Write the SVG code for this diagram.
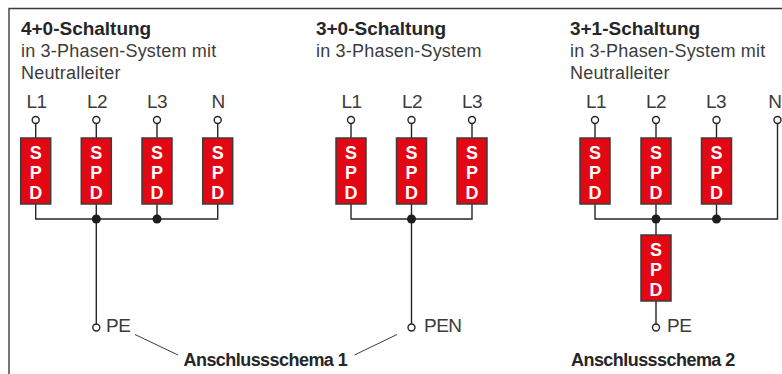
<svg xmlns="http://www.w3.org/2000/svg" width="782" height="374" viewBox="0 0 782 374">
<style>
text{font-family:"Liberation Sans",Arial,sans-serif;fill:#3c3c3b}
.h{font-size:19px;font-weight:700;fill:#262626;letter-spacing:-.02px}
.t{font-size:18px;font-weight:400;letter-spacing:.2px}
.p{font-size:19px;text-anchor:middle;letter-spacing:-.5px}
.pl{font-size:19px;letter-spacing:-.5px}
.b{fill:#e30613;stroke:#3c3c3b;stroke-width:1.5}
.s{font-size:18px;font-weight:700;fill:#fff;text-anchor:middle}
.w{fill:none;stroke:#262626;stroke-width:1.4}
.c{fill:#fff;stroke:#262626;stroke-width:1.4}
.d{fill:#1d1d1b}
.m{font-size:18px;font-weight:700;fill:#262626;letter-spacing:-.55px}
</style>
<defs>
<g id="spd"><rect class="b" x="-15" y="0" width="30" height="66"/><text class="s" y="21">S</text><text class="s" y="41">P</text><text class="s" y="61">D</text></g>
</defs>
<g id="frame"><path d="M782 8.500H9V374" fill="none" stroke="#3c3c3b" stroke-width="1.4"/></g>
<g id="connectors">
<path class="w" d="M35.700 123.500V138M96.300 123.500V138M157 123.500V138M217.700 123.500V138M35.700 204V219H217.700V204M96.300 204V324M157 204V219"/>
<path class="w" d="M351 123.500V138M411.500 123.500V138M472 123.500V138M351 204V219H472V204M411.500 204V324"/>
<path class="w" d="M595 123.500V138M656 123.500V138M716.500 123.500V138M777.500 123.500V219H595V204M656 204V235M716.500 204V219M656 301V324"/>
<path d="M135 334.500L178 355M397 334.500L354.500 355" fill="none" stroke="#3c3c3b" stroke-width="1"/>
<circle class="d" cx="96.300" cy="219" r="4.500"/><circle class="d" cx="157" cy="219" r="4.500"/>
<circle class="d" cx="411.500" cy="219" r="4.500"/>
<circle class="d" cx="656" cy="219" r="4.500"/><circle class="d" cx="716.500" cy="219" r="4.500"/>
</g>
<g id="title-40"><text class="h" x="21" y="35">4+0-Schaltung</text><text class="t" x="21" y="57">in 3-Phasen-System mit</text><text class="t" x="21" y="79">Neutralleiter</text></g>
<g id="title-30"><text class="h" x="316" y="35">3+0-Schaltung</text><text class="t" x="316" y="57">in 3-Phasen-System</text></g>
<g id="title-31"><text class="h" x="570" y="35">3+1-Schaltung</text><text class="t" x="570" y="57">in 3-Phasen-System mit</text><text class="t" x="570" y="79">Neutralleiter</text></g>
<g id="n40-L1"><text class="p" x="36.500" y="108">L1</text><circle class="c" cx="35.700" cy="120" r="3.500"/><use href="#spd" x="35.700" y="138"/></g>
<g id="n40-L2"><text class="p" x="97" y="108">L2</text><circle class="c" cx="96.300" cy="120" r="3.500"/><use href="#spd" x="96.300" y="138"/></g>
<g id="n40-L3"><text class="p" x="157" y="108">L3</text><circle class="c" cx="157" cy="120" r="3.500"/><use href="#spd" x="157" y="138"/></g>
<g id="n40-N"><text class="p" x="218" y="108">N</text><circle class="c" cx="217.700" cy="120" r="3.500"/><use href="#spd" x="217.700" y="138"/></g>
<g id="n40-PE"><circle class="c" cx="96.300" cy="327.500" r="3.500"/><text class="pl" x="106" y="332">PE</text></g>
<g id="n30-L1"><text class="p" x="351.500" y="108">L1</text><circle class="c" cx="351" cy="120" r="3.500"/><use href="#spd" x="351" y="138"/></g>
<g id="n30-L2"><text class="p" x="412" y="108">L2</text><circle class="c" cx="411.500" cy="120" r="3.500"/><use href="#spd" x="411.500" y="138"/></g>
<g id="n30-L3"><text class="p" x="472" y="108">L3</text><circle class="c" cx="472" cy="120" r="3.500"/><use href="#spd" x="472" y="138"/></g>
<g id="n30-PEN"><circle class="c" cx="411.500" cy="327.500" r="3.500"/><text class="pl" x="424" y="332">PEN</text></g>
<g id="n31-L1"><text class="p" x="596" y="108">L1</text><circle class="c" cx="595" cy="120" r="3.500"/><use href="#spd" x="595" y="138"/></g>
<g id="n31-L2"><text class="p" x="656" y="108">L2</text><circle class="c" cx="656" cy="120" r="3.500"/><use href="#spd" x="656" y="138"/></g>
<g id="n31-L3"><text class="p" x="716" y="108">L3</text><circle class="c" cx="716.500" cy="120" r="3.500"/><use href="#spd" x="716.500" y="138"/></g>
<g id="n31-N"><text class="pl" x="781.500" y="108" text-anchor="end">N</text><circle class="c" cx="777.500" cy="120" r="3.500"/></g>
<g id="n31-SPD"><use href="#spd" x="656" y="235"/></g>
<g id="n31-PE"><circle class="c" cx="656" cy="327.500" r="3.500"/><text class="pl" x="667" y="332">PE</text></g>
<g id="label-1"><text class="m" x="183.500" y="366">Anschlussschema 1</text></g>
<g id="label-2"><text class="m" x="571" y="366">Anschlussschema 2</text></g>
</svg>
